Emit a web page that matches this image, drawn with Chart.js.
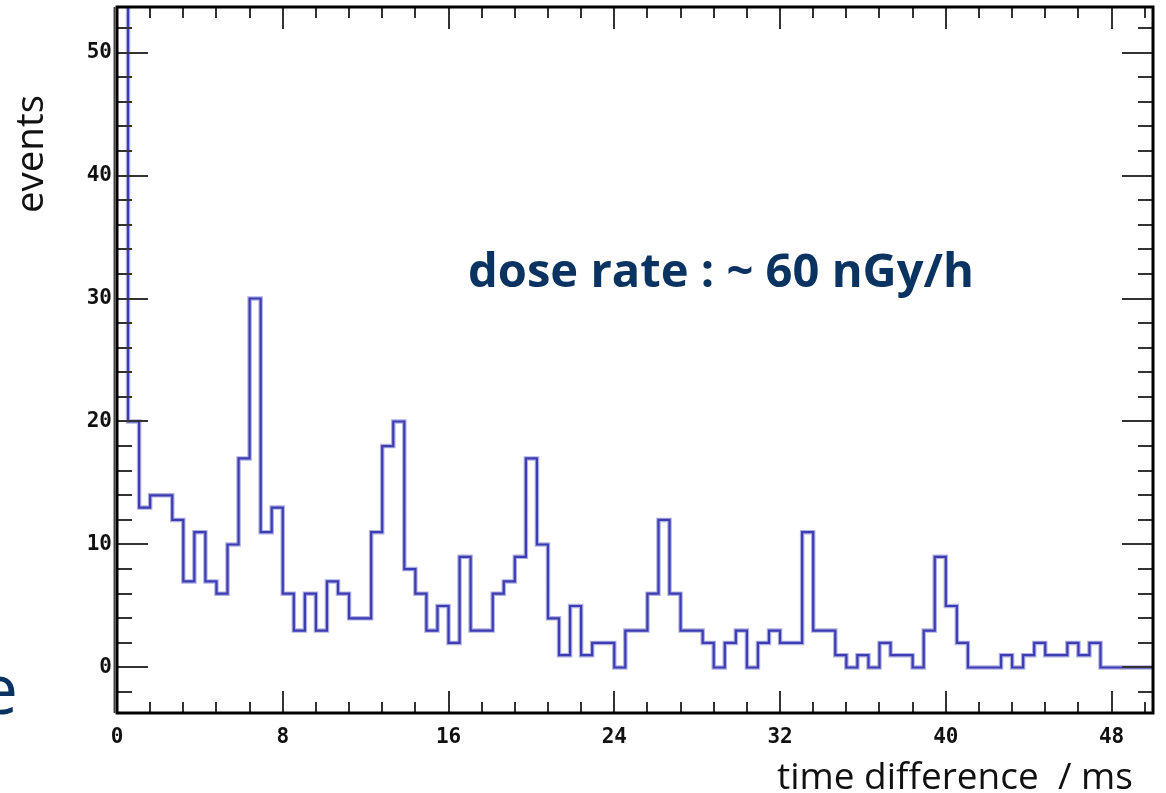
<!DOCTYPE html>
<html><head><meta charset="utf-8">
<script src="https://cdn.jsdelivr.net/npm/chart.js@4.4.0/dist/chart.umd.min.js"></script>
<style>html,body{margin:0;padding:0;background:#fff;overflow:hidden}canvas{display:block}</style>
</head><body>
<canvas id="c" width="1166" height="793"></canvas>
<script>
// ---- data ----
const binWidth = 8 / 15; // ms per histogram bin
const counts = [80,20,13,14,14,12,7,11,7,6,10,17,30,11,13,6,3,6,3,7,6,4,4,11,18,20,8,6,3,5,2,9,3,3,6,7,9,17,10,4,1,5,1,2,2,0,3,3,6,12,6,3,3,2,0,2,3,0,2,3,2,2,11,3,3,1,0,1,0,2,1,1,0,3,9,5,2,0,0,0,1,0,1,2,1,1,2,1,2,0,0,0,0,0];
const xTicks = [0, 8, 16, 24, 32, 40, 48];
const xTickLabels = ['0', '8', '16', '24', '32', '40', '48'];
const yTicks = [0, 10, 20, 30, 40, 50];
const yTickLabels = ['0', '10', '20', '30', '40', '50'];
const xMinorStep = 1.6;
const yMinorStep = 2;
const xRange = [0, 50];
const yRange = [-3.7, 53.7];
const xTitle = 'time difference  / ms';
const yTitle = 'events';
const annotation = 'dose rate : ~ 60 nGy/h';
const sideText = 'e';

// ---- build points (bin left edges, stepped) ----
const points = counts.map((v, i) => ({ x: i * binWidth, y: v }));
points.push({ x: counts.length * binWidth, y: counts[counts.length - 1] });

const NAVY = '#0b3361';

function fitSize(ctx, text, weight, family, width) {
  ctx.font = `${weight} 100px ${family}`;
  return 100 * width / ctx.measureText(text).width;
}

const decor = {
  id: 'decor',
  afterDatasetsDraw(chart) {
    const { ctx, chartArea: a, scales: { x, y } } = chart;
    ctx.save();
    ctx.strokeStyle = '#333';
    ctx.lineWidth = 2;
    ctx.beginPath();
    for (let i = 0; i * xMinorStep <= xRange[1] + 1e-9; i++) {
      const v = i * xMinorStep;
      const major = xTicks.some(t => Math.abs(t - v) < 1e-6);
      const px = Math.round(x.getPixelForValue(v));
      const L = major ? 22 : 11;
      ctx.moveTo(px, a.bottom); ctx.lineTo(px, a.bottom - L);
      ctx.moveTo(px, a.top); ctx.lineTo(px, a.top + L);
    }
    for (let i = Math.ceil(yRange[0] / yMinorStep); i * yMinorStep <= yRange[1]; i++) {
      const v = i * yMinorStep;
      const major = yTicks.some(t => Math.abs(t - v) < 1e-6);
      const py = Math.round(y.getPixelForValue(v));
      const L = major ? 31 : 15;
      ctx.moveTo(a.left, py); ctx.lineTo(a.left + L, py);
      ctx.moveTo(a.right, py); ctx.lineTo(a.right - L, py);
    }
    ctx.stroke();
    ctx.strokeStyle = '#000';
    ctx.lineWidth = 3;
    ctx.strokeRect(a.left, a.top, a.right - a.left, a.bottom - a.top);
    ctx.strokeStyle = '#444';
    ctx.lineWidth = 2;
    ctx.beginPath(); ctx.moveTo(a.left - 2.5, a.top); ctx.lineTo(a.left - 2.5, a.bottom); ctx.stroke();
    ctx.restore();
  },
  afterDraw(chart) {
    const { ctx } = chart;
    ctx.save();
    const fam = '"Open Sans", "Noto Sans", sans-serif';
    let s = fitSize(ctx, annotation, 'bold', fam, 506);
    ctx.font = `bold ${s}px ${fam}`;
    ctx.fillStyle = NAVY;
    ctx.textAlign = 'left'; ctx.textBaseline = 'alphabetic';
    ctx.fillText(annotation, 468, 287);
    s = fitSize(ctx, xTitle, 'normal', fam, 356);
    ctx.font = `normal ${s}px ${fam}`;
    ctx.fillStyle = '#111';
    ctx.fillText(xTitle, 777, 789);
    s = fitSize(ctx, yTitle, 'normal', fam, 118);
    ctx.font = `normal ${s}px ${fam}`;
    ctx.translate(43, 213);
    ctx.rotate(-Math.PI / 2);
    ctx.fillText(yTitle, 0, 0);
    ctx.setTransform(1, 0, 0, 1, 0, 0);
    ctx.font = `normal 70px ${fam}`;
    ctx.fillStyle = NAVY;
    ctx.textAlign = 'right';
    ctx.fillText(sideText, 18, 714);
    ctx.restore();
  }
};

const tickFont = { family: '"DejaVu Sans Mono", monospace', size: 21, weight: 'bold' };

new Chart(document.getElementById('c'), {
  type: 'line',
  data: {
    datasets: [
      { data: points, stepped: true, borderColor: 'rgb(60,60,180)', borderWidth: 2.2, pointRadius: 0, fill: false, clip: 0, order: 0 },
      { data: points, stepped: true, borderColor: 'rgba(150,150,215,0.75)', borderWidth: 4.5, pointRadius: 0, fill: false, clip: 0, order: 1 }
    ]
  },
  options: {
    responsive: false,
    animation: false,
    events: [],
    layout: { padding: { left: 0, top: 7, right: 13, bottom: 0 } },
    plugins: { legend: { display: false }, tooltip: { enabled: false } },
    scales: {
      x: {
        type: 'linear', min: xRange[0], max: xRange[1],
        grid: { display: false, drawTicks: false },
        border: { display: false },
        afterBuildTicks: sc => { sc.ticks = xTicks.map(v => ({ value: v })); },
        afterFit: sc => { sc.height = 80; sc.paddingLeft = 0; sc.paddingRight = 0; },
        ticks: {
          autoSkip: false, maxRotation: 0, padding: 12,
          font: tickFont, color: '#111',
          callback: v => xTickLabels[xTicks.indexOf(v)]
        }
      },
      y: {
        type: 'linear', min: yRange[0], max: yRange[1],
        grid: { display: false, drawTicks: false },
        border: { display: false },
        afterBuildTicks: sc => { sc.ticks = yTicks.map(v => ({ value: v })); },
        afterFit: sc => { sc.width = 117; sc.paddingTop = 0; sc.paddingBottom = 0; },
        ticks: {
          autoSkip: false, padding: 5,
          font: tickFont, color: '#111',
          callback: v => yTickLabels[yTicks.indexOf(v)]
        }
      }
    }
  },
  plugins: [decor]
});
</script>
</body></html>
